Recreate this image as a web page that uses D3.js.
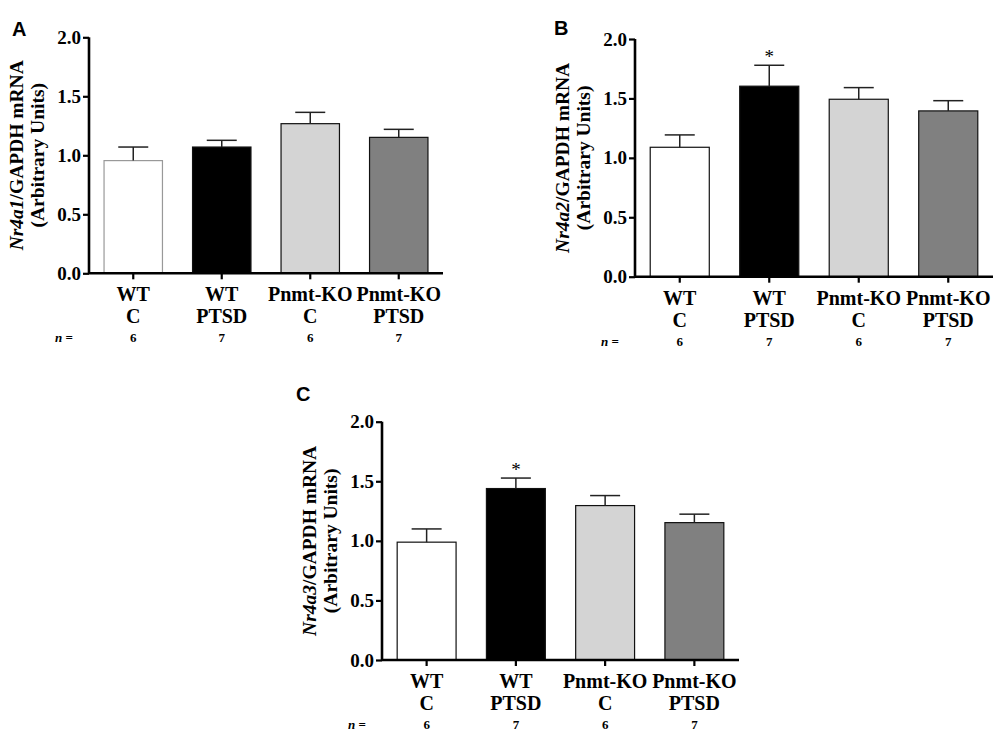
<!DOCTYPE html>
<html>
<head>
<meta charset="utf-8">
<script src="https://cdn.jsdelivr.net/npm/d3@7"></script>
<style>
  html, body { margin: 0; padding: 0; background: #fff; }
  svg { display: block; }
</style>
</head>
<body>
<svg id="chart" width="1000" height="731"></svg>
<script>
// ---- data ----
const groupsTop = ["WT", "WT", "Pnmt-KO", "Pnmt-KO"];
const groupsBottom = ["C", "PTSD", "C", "PTSD"];
const nValues = ["6", "7", "6", "7"];
const yTicks = [0.0, 0.5, 1.0, 1.5, 2.0];

const genes = ["Nr4a1", "Nr4a2", "Nr4a3"];
const panelLetters = ["A", "B", "C"];

const meanA = [0.955, 1.07, 1.268, 1.152];
const semA  = [0.115, 0.057, 0.096, 0.068];
const meanB = [1.089, 1.603, 1.493, 1.395];
const semB  = [0.104, 0.176, 0.098, 0.086];
const meanC = [0.989, 1.439, 1.296, 1.153];
const semC  = [0.111, 0.088, 0.084, 0.071];

const sigA = [false, false, false, false];
const sigB = [false, true, false, false];
const sigC = [false, true, false, false];

// ---- style / layout ----
const fills = ["#ffffff", "#000000", "#d4d4d4", "#808080"];
const serif = "'Liberation Serif', 'Times New Roman', serif";
const sans = "'Liberation Sans', Arial, sans-serif";

const layouts = [
  { x0: 89,  x1: 443, y0: 273.3, y1: 37.3, letterX: 12,  letterY: 36,  whiteStroke: "#999" },
  { x0: 635, x1: 993, y0: 276.7, y1: 39,   letterX: 554, letterY: 35,  whiteStroke: "#111" },
  { x0: 382, x1: 739, y0: 660,   y1: 421.7, letterX: 296, letterY: 401, whiteStroke: "#111" }
];

const svg = d3.select("#chart");
const allMeans = [meanA, meanB, meanC];
const allSems = [semA, semB, semC];
const allSig = [sigA, sigB, sigC];

layouts.forEach((L, p) => {
  const means = allMeans[p], sems = allSems[p], sig = allSig[p];
  const idx = d3.range(means.length);
  const x = d3.scaleBand().domain(idx).range([L.x0, L.x1]).paddingInner(0.34).paddingOuter(0.17);
  const y = d3.scaleLinear().domain([0, 2]).range([L.y0, L.y1]);
  const g = svg.append("g");

  // bars
  g.selectAll("rect.bar").data(idx).join("rect")
    .attr("class", "bar")
    .attr("x", i => x(i))
    .attr("width", x.bandwidth())
    .attr("y", i => y(means[i]))
    .attr("height", i => y(0) - y(means[i]))
    .attr("fill", i => fills[i])
    .attr("stroke", i => i === 0 ? L.whiteStroke : "#111")
    .attr("stroke-width", 1.2);

  // error bars (upper only)
  const cap = 15;
  g.selectAll("line.err").data(idx).join("line")
    .attr("class", "err")
    .attr("x1", i => x(i) + x.bandwidth() / 2)
    .attr("x2", i => x(i) + x.bandwidth() / 2)
    .attr("y1", i => y(means[i]))
    .attr("y2", i => y(means[i] + sems[i]))
    .attr("stroke", "#222").attr("stroke-width", 1.5);
  g.selectAll("line.cap").data(idx).join("line")
    .attr("class", "cap")
    .attr("x1", i => x(i) + x.bandwidth() / 2 - cap)
    .attr("x2", i => x(i) + x.bandwidth() / 2 + cap)
    .attr("y1", i => y(means[i] + sems[i]))
    .attr("y2", i => y(means[i] + sems[i]))
    .attr("stroke", "#222").attr("stroke-width", 1.5);

  // significance stars
  g.selectAll("text.star").data(idx.filter(i => sig[i])).join("text")
    .attr("class", "star")
    .attr("x", i => x(i) + x.bandwidth() / 2)
    .attr("y", i => y(means[i] + sems[i]) - 2)
    .attr("text-anchor", "middle")
    .attr("font-family", serif).attr("font-size", 19)
    .text("*");

  // y axis
  const yAxis = d3.axisLeft(y).tickValues(yTicks).tickFormat(d3.format(".1f")).tickSize(6).tickPadding(2);
  const ya = g.append("g").attr("transform", `translate(${L.x0},0)`).call(yAxis);
  ya.select(".domain").attr("stroke", "#000").attr("stroke-width", 2.6)
    .attr("d", `M0,${L.y0}V${L.y1}`);
  ya.selectAll(".tick line").attr("stroke", "#000").attr("stroke-width", 2.2);
  ya.selectAll(".tick text").attr("font-family", serif).attr("font-weight", "bold")
    .attr("font-size", 19).attr("fill", "#000");

  // x axis
  const xAxis = d3.axisBottom(x).tickSize(6).tickFormat("");
  const xa = g.append("g").attr("transform", `translate(0,${L.y0})`).call(xAxis);
  xa.select(".domain").attr("stroke", "#000").attr("stroke-width", 2.6)
    .attr("d", `M${L.x0},0H${L.x1}`);
  xa.selectAll(".tick line").attr("stroke", "#000").attr("stroke-width", 2.2);

  // category labels
  const lab = g.append("g").attr("font-family", serif).attr("font-weight", "bold")
    .attr("text-anchor", "middle").attr("fill", "#000");
  lab.selectAll("text.l1").data(idx).join("text").attr("class", "l1")
    .attr("x", i => x(i) + x.bandwidth() / 2).attr("y", L.y0 + 28)
    .attr("font-size", 20).text(i => groupsTop[i]);
  lab.selectAll("text.l2").data(idx).join("text").attr("class", "l2")
    .attr("x", i => x(i) + x.bandwidth() / 2).attr("y", L.y0 + 50)
    .attr("font-size", 20).text(i => groupsBottom[i]);
  lab.selectAll("text.n").data(idx).join("text").attr("class", "n")
    .attr("x", i => x(i) + x.bandwidth() / 2).attr("y", L.y0 + 69)
    .attr("font-size", 13).text(i => nValues[i]);
  const nlab = g.append("text").attr("x", L.x0 - 34).attr("y", L.y0 + 69)
    .attr("font-family", serif).attr("font-weight", "bold").attr("font-size", 13);
  nlab.append("tspan").attr("font-style", "italic").text("n");
  nlab.append("tspan").text(" =");

  // y label
  const cy = (L.y0 + L.y1) / 2;
  const yl = g.append("text")
    .attr("transform", `translate(${L.x0 - 66},${cy}) rotate(-90)`)
    .attr("text-anchor", "middle")
    .attr("font-family", serif).attr("font-weight", "bold").attr("font-size", 19.5);
  yl.append("tspan").attr("font-style", "italic").text(genes[p]);
  yl.append("tspan").text("/GAPDH mRNA");
  g.append("text")
    .attr("transform", `translate(${L.x0 - 45},${cy}) rotate(-90)`)
    .attr("text-anchor", "middle")
    .attr("font-family", serif).attr("font-weight", "bold").attr("font-size", 19.5)
    .text("(Arbitrary Units)");

  // panel letter
  g.append("text").attr("x", L.letterX).attr("y", L.letterY)
    .attr("font-family", sans).attr("font-weight", "bold").attr("font-size", 20)
    .text(panelLetters[p]);
});
</script>
</body>
</html>
